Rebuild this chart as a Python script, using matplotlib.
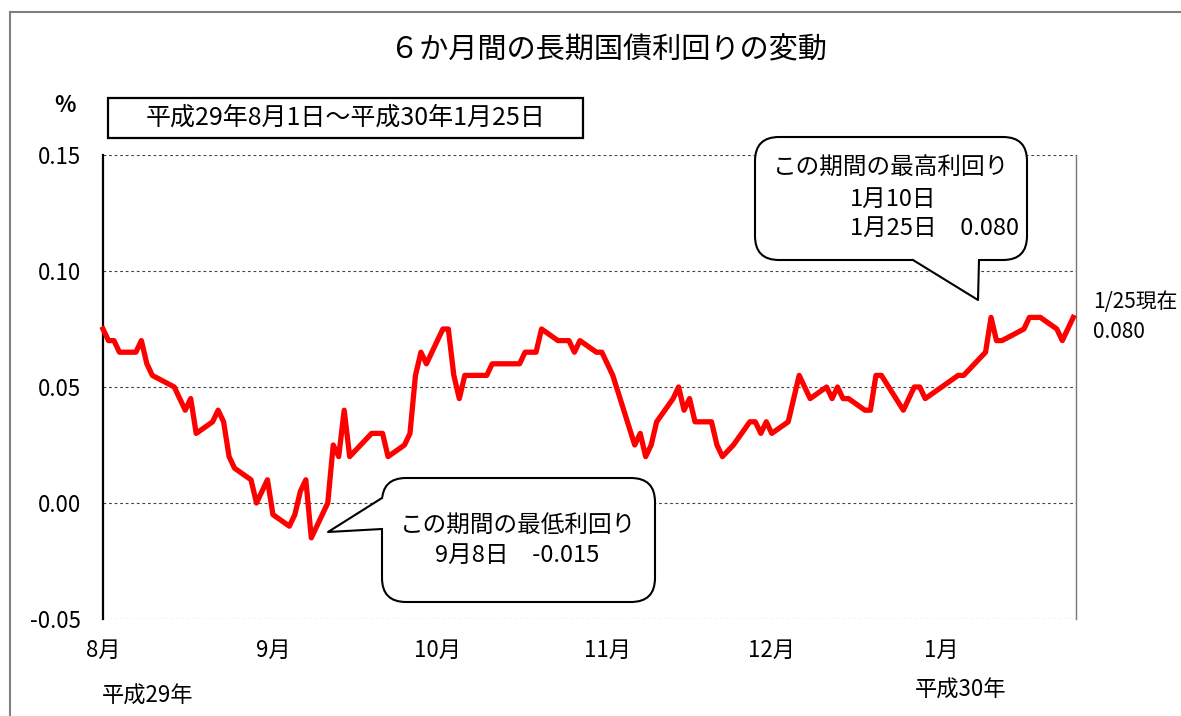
import pandas as pd
import matplotlib
matplotlib.use("Agg")
import matplotlib.pyplot as plt
from matplotlib.patches import FancyBboxPatch, Polygon, Rectangle
from matplotlib.lines import Line2D
from matplotlib.transforms import IdentityTransform

plt.rcParams["font.family"] = ["Noto Sans CJK JP", "DejaVu Sans"]

# 10-year JGB yield (%)
dates = [
    "2017-08-01", "2017-08-02", "2017-08-03", "2017-08-04", "2017-08-07",
    "2017-08-08", "2017-08-09", "2017-08-10", "2017-08-14", "2017-08-16",
    "2017-08-17", "2017-08-18", "2017-08-21", "2017-08-22", "2017-08-23",
    "2017-08-24", "2017-08-25", "2017-08-28", "2017-08-29", "2017-08-31",
    "2017-09-01", "2017-09-04", "2017-09-05", "2017-09-06", "2017-09-07",
    "2017-09-08", "2017-09-11", "2017-09-12", "2017-09-13", "2017-09-14",
    "2017-09-15", "2017-09-19", "2017-09-21", "2017-09-22", "2017-09-25",
    "2017-09-26", "2017-09-27", "2017-09-28", "2017-09-29", "2017-10-02",
    "2017-10-03", "2017-10-04", "2017-10-05", "2017-10-06", "2017-10-10",
    "2017-10-11", "2017-10-16", "2017-10-17", "2017-10-19", "2017-10-20",
    "2017-10-23", "2017-10-25", "2017-10-26", "2017-10-27", "2017-10-30",
    "2017-10-31", "2017-11-02", "2017-11-06", "2017-11-07", "2017-11-08",
    "2017-11-09", "2017-11-10", "2017-11-13", "2017-11-14", "2017-11-15",
    "2017-11-16", "2017-11-17", "2017-11-20", "2017-11-21", "2017-11-22",
    "2017-11-24", "2017-11-27", "2017-11-28", "2017-11-29", "2017-11-30",
    "2017-12-01", "2017-12-04", "2017-12-06", "2017-12-08", "2017-12-11",
    "2017-12-12", "2017-12-13", "2017-12-14", "2017-12-15", "2017-12-18",
    "2017-12-19", "2017-12-20", "2017-12-21", "2017-12-25", "2017-12-27",
    "2017-12-28", "2017-12-29", "2018-01-04", "2018-01-05", "2018-01-09",
    "2018-01-10", "2018-01-11", "2018-01-12", "2018-01-16", "2018-01-17",
    "2018-01-19", "2018-01-22", "2018-01-23", "2018-01-25",
]
yields = [
    0.075, 0.070, 0.070, 0.065, 0.065,
    0.070, 0.060, 0.055, 0.050, 0.040,
    0.045, 0.030, 0.035, 0.040, 0.035,
    0.020, 0.015, 0.010, 0.000, 0.010,
    -0.005, -0.010, -0.005, 0.005, 0.010,
    -0.015, 0.000, 0.025, 0.020, 0.040,
    0.020, 0.030, 0.030, 0.020, 0.025,
    0.030, 0.055, 0.065, 0.060, 0.075,
    0.075, 0.055, 0.045, 0.055, 0.055,
    0.060, 0.060, 0.065, 0.065, 0.075,
    0.070, 0.070, 0.065, 0.070, 0.065,
    0.065, 0.055, 0.025, 0.030, 0.020,
    0.025, 0.035, 0.045, 0.050, 0.040,
    0.045, 0.035, 0.035, 0.025, 0.020,
    0.025, 0.035, 0.035, 0.030, 0.035,
    0.030, 0.035, 0.055, 0.045, 0.050,
    0.045, 0.050, 0.045, 0.045, 0.040,
    0.040, 0.055, 0.055, 0.040, 0.050,
    0.050, 0.045, 0.055, 0.055, 0.065,
    0.080, 0.070, 0.070, 0.075, 0.080,
    0.080, 0.075, 0.070, 0.080,
]
month_ticks = ["2017-08-01", "2017-09-01", "2017-10-01",
               "2017-11-01", "2017-12-01", "2018-01-01"]
month_labels = ["8月", "9月", "10月", "11月", "12月", "1月"]
y_ticks = [-0.05, 0.00, 0.05, 0.10, 0.15]
y_labels = ["-0.05", "0.00", "0.05", "0.10", "0.15"]

W, H = 1181, 716
fig = plt.figure(figsize=(W / 100, H / 100), dpi=100)
ax = fig.add_axes([103 / W, 1 - 619 / H, (1076 - 103) / W, (619 - 155) / H])

x = pd.to_datetime(dates)
ax.plot(x, yields, color="#ff0000", lw=3.8, clip_on=False, zorder=3)

ax.set_xlim(pd.Timestamp("2017-08-01"), pd.Timestamp("2018-01-25 12:00"))
ax.set_ylim(-0.05, 0.15)
ax.set_xticks(pd.to_datetime(month_ticks))
ax.set_xticklabels(month_labels)
ax.set_yticks(y_ticks)
ax.set_yticklabels(y_labels)
ax.tick_params(axis="both", length=0, labelsize=16)
ax.tick_params(axis="y", pad=16)
ax.tick_params(axis="x", pad=14)
ax.yaxis.grid(True, color="#444444", ls=(0, (2.5, 2.5)), lw=0.8)

ax.spines["top"].set_visible(False)
ax.spines["bottom"].set_visible(False)
ax.spines["left"].set_color("black")
ax.spines["left"].set_linewidth(1.6)
ax.spines["right"].set_color("#777777")
ax.spines["right"].set_linewidth(1.0)


def txt(px, py, s, **kw):
    fig.text(px / W, 1 - py / H, s, **kw)


def pix(pts):
    return [(p[0], H - p[1]) for p in pts]


def callout(x0, y0, x1, y1, tail, cover):
    box = FancyBboxPatch((x0, H - y1), x1 - x0, y1 - y0,
                         boxstyle="round,pad=0,rounding_size=24",
                         transform=IdentityTransform(), fc="white",
                         ec="black", lw=1.5, zorder=5)
    fig.add_artist(box)
    fig.add_artist(Polygon(pix(cover), closed=True, fc="white", ec="none",
                           transform=IdentityTransform(), zorder=6))
    xs, ys = zip(*pix(tail))
    fig.add_artist(Line2D(xs, ys, color="black", lw=1.5,
                          transform=IdentityTransform(), zorder=7))


# outer frame
fig.add_artist(Line2D([10, W], [H - 12, H - 12], color="#808080", lw=1.5,
                      transform=IdentityTransform()))
fig.add_artist(Line2D([10, 10], [H - 12, 0], color="#808080", lw=1.5,
                      transform=IdentityTransform()))

txt(608, 50, "６か月間の長期国債利回りの変動", ha="center", va="center", fontsize=21)
txt(65, 106, "%", ha="center", va="center", fontsize=16, fontweight="bold")

fig.add_artist(Rectangle((108, H - 138), 475, 40, fc="white", ec="black",
                         lw=1.6, transform=IdentityTransform(), zorder=4))
txt(346, 118, "平成29年8月1日～平成30年1月25日", ha="center", va="center",
    fontsize=18, zorder=5)

# max callout
callout(755, 137, 1027, 260,
        tail=[(913, 260), (978, 300), (979, 260)],
        cover=[(911, 257), (913, 260), (978, 300), (979, 260), (981, 257)])
txt(891, 168, "この期間の最高利回り", ha="center", va="center", fontsize=17, zorder=8)
txt(850, 199, "1月10日", ha="left", va="center", fontsize=17, zorder=8)
txt(850, 228, "1月25日　0.080", ha="left", va="center", fontsize=17, zorder=8)

# min callout
callout(382, 478, 655, 602,
        tail=[(382, 498), (328, 532), (382, 529)],
        cover=[(385, 496), (382, 498), (328, 532), (382, 529), (385, 531)])
txt(518, 525, "この期間の最低利回り", ha="center", va="center", fontsize=17, zorder=8)
txt(517, 555, "9月8日　-0.015", ha="center", va="center", fontsize=17, zorder=8)

txt(1093, 302, "1/25現在", ha="left", va="center", fontsize=15)
txt(1093, 332, "0.080", ha="left", va="center", fontsize=15)

txt(102, 696, "平成29年", ha="left", va="center", fontsize=16)
txt(915, 690, "平成30年", ha="left", va="center", fontsize=16)

fig.savefig("out.png", dpi=100)
